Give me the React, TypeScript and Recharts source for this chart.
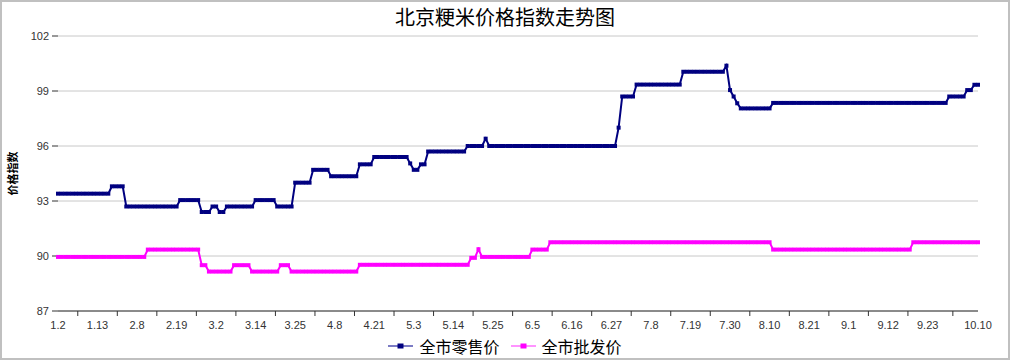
import React from 'react';
import { LineChart, Line, XAxis, YAxis, CartesianGrid } from 'recharts';

// X-axis labels and the point index (day number) each one sits on
const tickLabels = ['1.2', '1.13', '2.8', '2.19', '3.2', '3.14', '3.25', '4.8', '4.21', '5.3', '5.14', '5.25', '6.5', '6.16', '6.27', '7.8', '7.19', '7.30', '8.10', '8.21', '9.1', '9.12', '9.23', '10.10'];
const tickIndices = [0, 11, 22, 33, 44, 55, 66, 77, 88, 99, 110, 121, 132, 143, 154, 165, 176, 187, 198, 209, 220, 231, 242, 256];
// positions of the small tick marks between the labels
const tickMarkIndices = [5.5, 16.5, 27.5, 38.5, 49.5, 60.5, 71.5, 82.5, 93.5, 104.5, 115.5, 126.5, 137.5, 148.5, 159.5, 170.5, 181.5, 192.5, 203.5, 214.5, 225.5, 236.5, 249];
const yTicks = [87, 90, 93, 96, 99, 102];

// Series values as [value, number of consecutive days the value was held]
const retailRuns: [number, number][] = [
  [93.4, 15], [93.8, 4], [92.7, 15], [93.05, 6], [92.4, 3], [92.7, 2], [92.4, 2], [92.7, 8],
  [93.05, 6], [92.7, 5], [94.0, 5], [94.7, 5], [94.35, 8], [95.0, 4], [95.4, 10], [95.05, 1],
  [94.7, 2], [95.0, 2], [95.7, 11], [96.0, 5], [96.4, 1], [96.0, 36], [97.0, 1], [98.7, 4],
  [99.35, 13], [100.05, 12], [100.38, 1], [99.05, 1], [98.7, 1], [98.33, 1], [98.05, 9],
  [98.35, 49], [98.7, 5], [99.05, 2], [99.34, 2],
];
const wholesaleRuns: [number, number][] = [
  [89.95, 25], [90.35, 15], [89.5, 2], [89.15, 7], [89.5, 5], [89.15, 8], [89.5, 3], [89.15, 19],
  [89.52, 31], [89.9, 2], [90.37, 1], [89.95, 14], [90.35, 5], [90.75, 62], [90.35, 39], [90.75, 19],
];

const seriesNames = ['全市零售价', '全市批发价'];
const seriesColors = ['#000080', '#FF00FF'];
const legendLineColors = ['#5050b0', '#ff70ff'];

const expand = (runs: [number, number][]) => {
  const out: number[] = [];
  runs.forEach(([v, n]) => {
    for (let k = 0; k < n; k++) out.push(v);
  });
  return out;
};

const retail = expand(retailRuns);
const wholesale = expand(wholesaleRuns);
const data = retail.map((v, i) => ({ i, retail: v, wholesale: wholesale[i] }));
const lastIndex = data.length - 1;

const FONT = '"Liberation Sans", Arial, sans-serif';
const CJK = '"Noto Sans CJK SC", sans-serif';
const TICK_SIZE = 5;
const TICK_MARGIN = 5;

const XTick = (props: any) => {
  const { x, y, payload } = props;
  const idx = tickIndices.indexOf(payload.value);
  if (idx >= 0) {
    return (
      <text x={x} y={y} dy="0.71em" textAnchor="middle" fontSize={11} fill="#333" fontFamily={FONT}>
        {tickLabels[idx]}
      </text>
    );
  }
  const axisY = y - TICK_SIZE - TICK_MARGIN;
  return <line x1={x} x2={x} y1={axisY} y2={axisY + TICK_SIZE} stroke="#333" strokeWidth={1} />;
};

const makeDot = (color: string) => (props: any) => {
  const { cx, cy, index } = props;
  if (cx == null || cy == null) return <g key={index} />;
  return <rect key={index} x={cx - 2} y={cy - 2} width={4} height={4} fill={color} />;
};

const YLabel = (props: any) => {
  const vb = props.viewBox || { x: 0, y: 0, height: 0 };
  const cx = vb.x + 12;
  const cy = vb.y + vb.height / 2;
  return (
    <text x={cx} y={cy} transform={`rotate(-90 ${cx} ${cy})`} textAnchor="middle" dominantBaseline="central" fontSize={11} fontWeight="bold" fill="#000" fontFamily={CJK}>
      价格指数
    </text>
  );
};

export default function App() {
  return (
    <div style={{ position: 'relative', width: 1010, height: 360, background: '#fff', boxShadow: 'inset 0 0 0 2px #c0c0c0', boxSizing: 'border-box' }}>
      <style>{`body{margin:0;}`}</style>
      <div style={{ position: 'absolute', top: 3, left: 0, width: 1010, textAlign: 'center', fontFamily: CJK, fontSize: 20, lineHeight: '28px', color: '#000' }}>
        北京粳米价格指数走势图
      </div>
      <LineChart width={1010} height={360} data={data} margin={{ top: 36, right: 32, left: 0, bottom: 19 }} style={{ fontFamily: FONT }}>
        <CartesianGrid vertical={false} stroke="#c8c8c8" />
        <XAxis
          dataKey="i"
          type="number"
          domain={[0, lastIndex]}
          ticks={[...tickIndices, ...tickMarkIndices]}
          interval={0}
          tickLine={false}
          tickSize={TICK_SIZE}
          tickMargin={TICK_MARGIN}
          axisLine={{ stroke: '#333' }}
          tick={<XTick />}
          height={30}
          allowDecimals
        />
        <YAxis
          type="number"
          domain={[87, 102]}
          ticks={yTicks}
          interval={0}
          width={58}
          axisLine={false}
          tickLine={{ stroke: '#333' }}
          tickSize={6}
          tickMargin={3}
          tick={{ fontSize: 11, fill: '#333', fontFamily: FONT }}
          label={<YLabel />}
        />
        <Line type="linear" dataKey="wholesale" stroke={seriesColors[1]} strokeWidth={2} dot={makeDot(seriesColors[1])} activeDot={false} isAnimationActive={false} />
        <Line type="linear" dataKey="retail" stroke={seriesColors[0]} strokeWidth={2} dot={makeDot(seriesColors[0])} activeDot={false} isAnimationActive={false} />
      </LineChart>
      <div style={{ position: 'absolute', top: 335, left: 0, width: 1010, display: 'flex', justifyContent: 'center', gap: 11, fontFamily: CJK, fontSize: 16, lineHeight: '22px', color: '#000' }}>
        {seriesNames.map((name, k) => (
          <div key={name} style={{ display: 'flex', alignItems: 'center' }}>
            <svg width={25} height={10} style={{ marginRight: 6 }}>
              <line x1={0} x2={25} y1={5} y2={5} stroke={legendLineColors[k]} strokeWidth={1.5} />
              <rect x={9.5} y={2.5} width={6} height={5} fill={seriesColors[k]} />
            </svg>
            <span>{name}</span>
          </div>
        ))}
      </div>
    </div>
  );
}
